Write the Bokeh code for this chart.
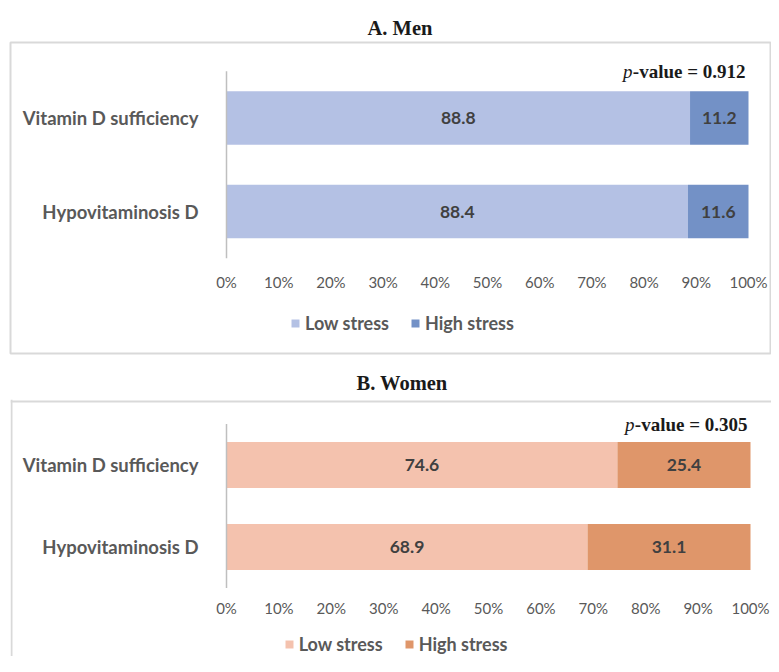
from bokeh.plotting import figure
from bokeh.models import (ColumnDataSource, Label, Legend, LegendItem, Range1d, Span, Title)
from bokeh.layouts import column
from bokeh.embed import file_html
from bokeh.resources import INLINE
from bokeh.core.properties import value

# ---------------- data ----------------
groups = ["Hypovitaminosis D", "Vitamin D sufficiency"]   # bottom -> top
men_low = [88.4, 88.8]
men_high = [11.6, 11.2]
women_low = [68.9, 74.6]
women_high = [31.1, 25.4]
tick_values = [0, 10, 20, 30, 40, 50, 60, 70, 80, 90, 100]
tick_labels = ["0%", "10%", "20%", "30%", "40%", "50%", "60%", "70%", "80%", "90%", "100%"]
series_names = ["Low stress", "High stress"]
panel_titles = ["A. Men", "B. Women"]
p_values = ["0.912", "0.305"]

SANS = "Lato"
SERIF = "Liberation Serif"
GREY = "#595959"
BOX = "#D9D9D9"
W = 771


def make_panel(title, low, high, colors, pval, geo, full_box):
    # geo: layout in picture pixels
    left, right, top, bottom = geo["frame"]
    x0, dx, y0, dy = geo["x0"], geo["dx"], geo["y0"], geo["dy"]
    canvas_top = geo["canvas_top"]
    H = geo["height"]
    xr = Range1d((left - x0) / dx, (right - x0) / dx)
    yr = Range1d((y0 - bottom) / dy, (y0 - top) / dy)
    p = figure(frame_width=int(right - left), frame_height=int(bottom - top),
               output_backend="svg", toolbar_location=None,
               x_range=xr, y_range=yr, x_axis_type=None, y_axis_type=None,
               min_border_left=int(left), min_border_right=int(W - right),
               min_border_top=int(top - canvas_top),
               min_border_bottom=int(canvas_top + H - bottom))
    p.xgrid.grid_line_color = None
    p.ygrid.grid_line_color = None
    p.background_fill_color = "white"
    p.border_fill_color = "white"
    if full_box:
        p.outline_line_color = BOX
        p.outline_line_width = 2
    else:
        p.outline_line_color = None
        # top and left border of the (cut off) box
        p.add_layout(Span(location=(y0 - (top + 2)) / dy, dimension="width",
                          line_color=BOX, line_width=2))
        p.add_layout(Span(location=(left + 1 - x0) / dx, dimension="height",
                          line_color=BOX, line_width=2))

    p.add_layout(Title(text=title, align="left", offset=geo["title_offset"],
                       text_font=SERIF, text_font_style="bold", text_font_size="20.5px",
                       text_color="#1a1a1a", standoff=geo["title_standoff"]), "above")

    ypos = list(range(len(groups)))
    total = [a + b for a, b in zip(low, high)]
    src = ColumnDataSource(dict(
        y=ypos, group=groups, low=low, high=high, total=total,
        low_mid=[a / 2 for a in low],
        high_mid=[a + b / 2 for a, b in zip(low, high)],
        low_txt=["%.1f" % v for v in low],
        high_txt=["%.1f" % v for v in high],
        zero=[0] * len(groups),
    ))
    bar_h = geo["bar_h"]
    r1 = p.hbar(y="y", left=0, right="low", height=bar_h, source=src,
                fill_color=colors[0], line_color=None)
    r2 = p.hbar(y="y", left="low", right="total", height=bar_h, source=src,
                fill_color=colors[1], line_color=None)
    for xcol, tcol in (("low_mid", "low_txt"), ("high_mid", "high_txt")):
        p.text(x=xcol, y="y", text=tcol, source=src, text_align="center",
               text_baseline="middle", text_font=value(SANS), text_font_style="bold",
               text_font_size="17.5px", text_color="#404040")

    # category axis: line and labels
    p.segment(x0=0, y0=-0.5, x1=0, y1=len(groups) - 0.5, line_color="#BFBFBF",
              line_width=1.5)
    p.text(x="zero", y="y", text="group", source=src, x_offset=-28,
           text_align="right", text_baseline="middle", text_font=value(SANS),
           text_font_style="bold", text_font_size="18.5px", text_color=GREY)

    # value axis tick labels
    tsrc = ColumnDataSource(dict(x=tick_values, y=[-0.5] * len(tick_values),
                                 t=tick_labels))
    p.text(x="x", y="y", text="t", source=tsrc, y_offset=geo["tick_off"],
           text_align="center", text_baseline="middle", text_font=value(SANS),
           text_font_size="15px", text_color=GREY)

    # legend
    legend = Legend(items=[LegendItem(label=series_names[0], renderers=[r1]),
                           LegendItem(label=series_names[1], renderers=[r2])],
                    orientation="horizontal", location=geo["legend_loc"],
                    glyph_width=10, glyph_height=10, label_standoff=5, spacing=21,
                    padding=0, margin=0, border_line_color=None,
                    background_fill_alpha=0,
                    label_text_font=SANS, label_text_font_style="bold",
                    label_text_font_size="18px", label_text_color=GREY)
    p.add_layout(legend)

    # p-value
    p.add_layout(Label(x=100, y=len(groups) - 0.5, x_offset=-3, text="-value = " + pval,
                       text_align="right", text_baseline="middle",
                       text_font=SERIF, text_font_style="bold", text_font_size="19px",
                       text_color="#1a1a1a"))
    p.add_layout(Label(x=100, y=len(groups) - 0.5, x_offset=-116, text="p",
                       text_align="right", text_baseline="middle",
                       text_font=SERIF, text_font_style="italic", text_font_size="19px",
                       text_color="#1a1a1a"))
    return p


geoA = dict(frame=(10, 770, 42, 353), x0=226, dx=5.22, y0=211, dy=93.5,
            canvas_top=0, height=360, bar_h=0.572, tick_off=24, legend_loc=(280, 19),
            title_standoff=8, title_offset=357)
geoB = dict(frame=(8, 771, 399, 656), x0=224, dx=5.24, y0=546.5, dy=82,
            canvas_top=360, height=296, bar_h=0.56, tick_off=20, legend_loc=(281, 1),
            title_standoff=12, title_offset=346)

pA = make_panel(panel_titles[0], men_low, men_high, ["#B4C1E4", "#7391C6"], p_values[0],
                geoA, True)
pB = make_panel(panel_titles[1], women_low, women_high, ["#F4C2AE", "#DF966A"], p_values[1],
                geoB, False)

layout = column(pA, pB)
open("out.html", "w").write(file_html(layout, INLINE))
